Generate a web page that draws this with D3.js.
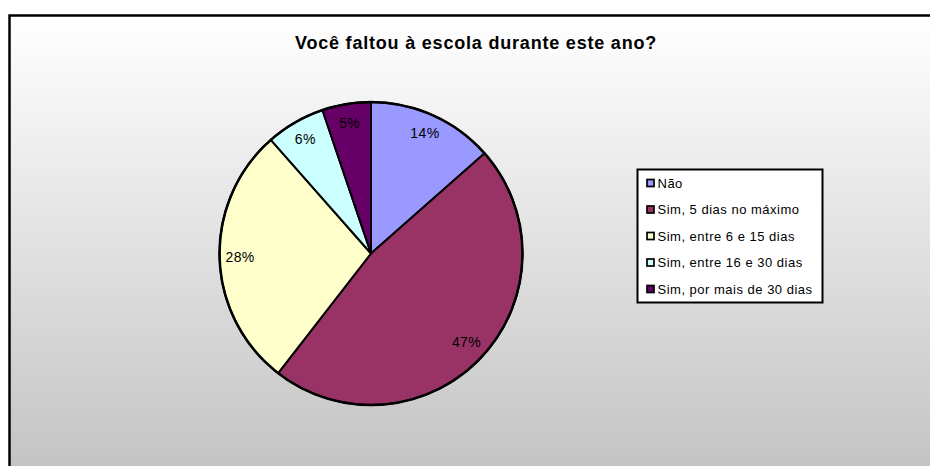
<!DOCTYPE html>
<meta charset="utf-8">
<title>Você faltou à escola</title>
<style>
body { margin: 0; }
text { font-family: "Liberation Sans", Arial, sans-serif; }
</style>
<script src="https://d3js.org/d3.v7.min.js"></script>
<body>
<script>
// data (percent shares)
var categories = ["Não", "Sim, 5 dias no máximo", "Sim, entre 6 e 15 dias", "Sim, entre 16 e 30 dias", "Sim, por mais de 30 dias"];
var values = [13.5, 47.0, 28.0, 6.3, 5.2];
var colors = ["#9999ff", "#993366", "#ffffcc", "#ccffff", "#660066"];
var title = "Você faltou à escola durante este ano?";

var width = 930, height = 466;

var svg = d3.select("body").append("svg")
    .attr("width", width)
    .attr("height", height);

// background gradient
var grad = svg.append("defs").append("linearGradient")
    .attr("id", "bg")
    .attr("x1", 0).attr("y1", 0).attr("x2", 0).attr("y2", 1);
grad.append("stop").attr("offset", "0%").attr("stop-color", "#ffffff");
grad.append("stop").attr("offset", "100%").attr("stop-color", "#c2c2c2");

svg.append("rect")
    .attr("width", width).attr("height", height)
    .attr("fill", "#ffffff");

// chart area frame, runs off the right and bottom edge
svg.append("rect")
    .attr("x", 9.5).attr("y", 15.5)
    .attr("width", width + 20).attr("height", height)
    .attr("fill", "url(#bg)")
    .attr("stroke", "#000")
    .attr("stroke-width", 2.5);

// title
svg.append("text")
    .attr("x", 476)
    .attr("y", 49)
    .attr("text-anchor", "middle")
    .style("font-size", "18px")
    .style("font-weight", "bold")
    .style("letter-spacing", "0.8px")
    .text(title);

// pie
var cx = 371, cy = 253.5, r = 151.5;
var pie = d3.pie().sort(null).value(function(d) { return d; });
var arcs = pie(values);
var arc = d3.arc().innerRadius(0).outerRadius(r);
var labelArc = d3.arc().innerRadius(131).outerRadius(131);
var total = d3.sum(values);

var g = svg.append("g").attr("transform", "translate(" + cx + "," + cy + ")");

g.selectAll("path.slice")
    .data(arcs)
  .enter().append("path")
    .attr("class", "slice")
    .attr("d", arc)
    .attr("fill", function(d, i) { return colors[i]; })
    .attr("stroke", "#000")
    .attr("stroke-width", 2)
    .attr("stroke-linejoin", "round");

g.append("circle")
    .attr("r", r)
    .attr("fill", "none")
    .attr("stroke", "#000")
    .attr("stroke-width", 2.5);

g.selectAll("text.lbl")
    .data(arcs)
  .enter().append("text")
    .attr("class", "lbl")
    .attr("transform", function(d) { return "translate(" + labelArc.centroid(d) + ")"; })
    .attr("text-anchor", "middle")
    .attr("dy", "0.3em")
    .style("font-size", "14px")
    .style("letter-spacing", "0.4px")
    .attr("fill", "#000")
    .text(function(d) { return Math.round(d.value / total * 100) + "%"; });

// legend
var legend = svg.append("g");
legend.append("rect")
    .attr("x", 637.5).attr("y", 169.5)
    .attr("width", 185).attr("height", 133)
    .attr("fill", "#fff")
    .attr("stroke", "#000")
    .attr("stroke-width", 2);

var ly = d3.scalePoint().domain(categories).range([183, 289]);

var items = legend.selectAll("g.item")
    .data(categories)
  .enter().append("g")
    .attr("class", "item")
    .attr("transform", function(d) { return "translate(646," + ly(d) + ")"; });

items.append("rect")
    .attr("x", 1).attr("y", -3.5)
    .attr("width", 7).attr("height", 7)
    .attr("fill", function(d, i) { return colors[i]; })
    .attr("stroke", "#000")
    .attr("stroke-width", 1.7);

items.append("text")
    .attr("x", 11.5)
    .attr("y", 4.8)
    .style("font-size", "13px")
    .style("letter-spacing", "0.5px")
    .text(function(d) { return d; });
</script>
</body>
